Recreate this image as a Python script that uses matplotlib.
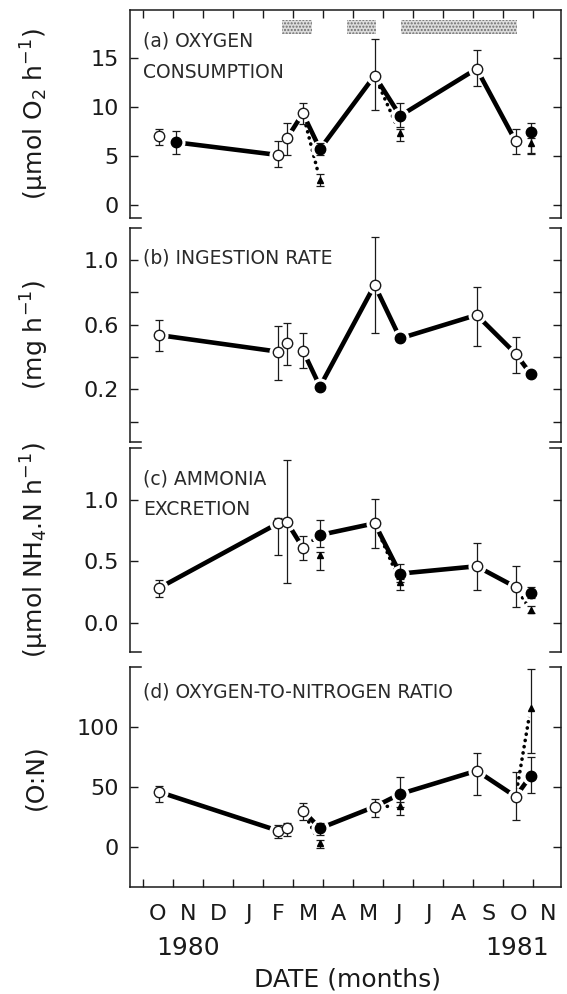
import matplotlib
matplotlib.use("Agg")
import matplotlib.pyplot as plt

plt.rcParams['font.family'] = ['DejaVu Sans']
plt.rcParams['mathtext.fontset'] = 'dejavusans'
plt.rcParams['hatch.color'] = '#6e6e6e'
plt.rcParams['hatch.linewidth'] = 1.0

# dates in months after 1 Oct 1980
open_dates = [0.52, 4.5, 4.8, 5.33, 7.72, 11.12, 12.42]
fill_dates_a = [1.09, 5.9, 8.57, 12.92]
fill_dates = [5.9, 8.57, 12.92]
tri_dates = [5.9, 8.57, 12.92]

month_labels = ['O', 'N', 'D', 'J', 'F', 'M', 'A', 'M', 'J', 'J', 'A', 'S', 'O', 'N']

# periods marked at the top of panel (a)
bar_start = [4.63, 6.8, 8.61]
bar_end = [5.65, 7.77, 12.48]

# (a) oxygen consumption
open_a = [7.0, 5.1, 6.8, 9.35, 13.2, 13.9, 6.5]
open_a_hi = [7.8, 6.5, 8.4, 10.4, 16.9, 15.8, 7.8]
open_a_lo = [6.1, 3.9, 5.1, 8.3, 9.7, 12.1, 5.2]
fill_a = [6.4, 5.7, 9.1, 7.4]
fill_a_hi = [7.5, 6.3, 10.4, 8.4]
fill_a_lo = [5.2, 5.1, 8.0, 5.2]
tri_a = [2.55, 7.3, 6.3]
tri_a_hi = [3.2, 7.8, 6.8]
tri_a_lo = [1.9, 6.5, 5.3]

# (b) ingestion rate
open_b = [0.536, 0.433, 0.485, 0.44, 0.845, 0.66, 0.42]
open_b_hi = [0.63, 0.59, 0.61, 0.55, 1.14, 0.835, 0.526]
open_b_lo = [0.44, 0.26, 0.35, 0.33, 0.55, 0.47, 0.30]
fill_b = [0.217, 0.515, 0.295]

# (c) ammonia excretion
open_c = [0.28, 0.81, 0.82, 0.61, 0.81, 0.46, 0.29]
open_c_hi = [0.35, 0.85, 1.33, 0.71, 1.01, 0.65, 0.46]
open_c_lo = [0.21, 0.55, 0.32, 0.51, 0.61, 0.27, 0.13]
fill_c = [0.715, 0.40, 0.24]
fill_c_hi = [0.84, 0.48, 0.29]
fill_c_lo = [0.62, 0.33, 0.20]
tri_c = [0.55, 0.33, 0.10]
tri_c_hi = [0.58, 0.36, 0.14]
tri_c_lo = [0.43, 0.27, 0.08]

# (d) O:N ratio
open_d = [45.8, 13.3, 15.3, 30.0, 33.3, 63.3, 41.7]
open_d_hi = [50.5, 18.0, 20.0, 36.7, 40.0, 78.0, 62.5]
open_d_lo = [37.5, 7.0, 9.0, 22.2, 25.0, 43.0, 22.2]
fill_d = [15.3, 43.9, 59.0]
fill_d_hi = [20.0, 57.8, 74.7]
fill_d_lo = [9.7, 33.3, 44.7]
tri_d = [2.8, 33.9, 115.6]
tri_d_hi = [5.6, 37.5, 148.0]
tri_d_lo = [-1.4, 26.4, 78.0]

panels = [
    dict(tag='a', fill_dates=fill_dates_a,
         o=(open_a, open_a_hi, open_a_lo), f=(fill_a, fill_a_hi, fill_a_lo), t=(tri_a, tri_a_hi, tri_a_lo),
         solid=['f0-o1', 'o2-o3', 'o3-f1', 'f1-o4', 'o4-f2', 'f2-o5', 'o5-o6'],
         dotted=['o3-t0', 'o4-t1', 'o6-f3', 'o6-t2'],
         ylim=(-1.33, 19.9), yticks=[0, 5, 10, 15], ylabels=['0', '5', '10', '15'],
         ylabel='(μmol O$_2$ h$^{-1}$)', rect=(218, 10)),
    dict(tag='b', fill_dates=fill_dates,
         o=(open_b, open_b_hi, open_b_lo), f=(fill_b, None, None), t=None,
         solid=['o0-o1', 'o3-f0', 'f0-o4', 'o4-f1', 'f1-o5', 'o5-o6', 'o6-f2'],
         dotted=[],
         ylim=(-0.126, 1.198), yticks=[0, 0.2, 0.4, 0.6, 0.8, 1.0],
         ylabels=['', '0.2', '', '0.6', '', '1.0'],
         ylabel='(mg h$^{-1}$)', rect=(442, 228)),
    dict(tag='c', fill_dates=fill_dates,
         o=(open_c, open_c_hi, open_c_lo), f=(fill_c, fill_c_hi, fill_c_lo), t=(tri_c, tri_c_hi, tri_c_lo),
         solid=['o0-o1', 'o2-o3', 'f0-o4', 'o4-f1', 'f1-o5', 'o5-o6'],
         dotted=['o3-f0', 'o3-t0', 'o4-t1', 'o6-f2', 'o6-t2'],
         ylim=(-0.239, 1.424), yticks=[0, 0.5, 1.0], ylabels=['0.0', '0.5', '1.0'],
         ylabel='(μmol NH$_4$.N h$^{-1}$)', rect=(652, 448)),
    dict(tag='d', fill_dates=fill_dates,
         o=(open_d, open_d_hi, open_d_lo), f=(fill_d, fill_d_hi, fill_d_lo), t=(tri_d, tri_d_hi, tri_d_lo),
         solid=['o0-o1', 'o3-f0', 'f0-o4', 'o4-f1', 'f1-o5', 'o5-o6', 'o6-f2'],
         dotted=['o3-t0', 'o4-t1', 'o6-t2'],
         ylim=(-33.6, 149.7), yticks=[0, 50, 100], ylabels=['0', '50', '100'],
         ylabel='(O:N)', rect=(887, 667)),
]

titles = {
    'a': ['(a) OXYGEN', 'CONSUMPTION'],
    'b': ['(b) INGESTION RATE'],
    'c': ['(c) AMMONIA', 'EXCRETION'],
    'd': ['(d) OXYGEN-TO-NITROGEN RATIO'],
}

W, H = 567, 994
fig = plt.figure(figsize=(W / 100, H / 100), dpi=100)
x0, x1 = 130, 561
ink = '#1a1a1a'

for i, p in enumerate(panels):
    ybot, ytop = p['rect']
    ax = fig.add_axes([x0 / W, 1 - ybot / H, (x1 - x0) / W, (ybot - ytop) / H])
    ax.set_xlim(-0.43, 13.93)
    ax.set_ylim(*p['ylim'])

    def point(key):
        kind, idx = key[0], int(key[1:])
        if kind == 'o':
            return open_dates[idx], p['o'][0][idx]
        if kind == 'f':
            return p['fill_dates'][idx], p['f'][0][idx]
        return tri_dates[idx], p['t'][0][idx]

    for seg in p['solid']:
        a, b = [point(k) for k in seg.split('-')]
        ax.plot([a[0], b[0]], [a[1], b[1]], color='black', lw=3.3, solid_capstyle='butt', zorder=1)
    for seg in p['dotted']:
        a, b = [point(k) for k in seg.split('-')]
        ax.plot([a[0], b[0]], [a[1], b[1]], color='black', lw=2.6, ls=(0, (0.05, 1.7)),
                dash_capstyle='round', zorder=1)

    # white halos so lines stop short of the symbols
    groups = [(open_dates, p['o'])]
    groups.append((p['fill_dates'], p['f']))
    if p['t'] is not None:
        groups.append((tri_dates, p['t']))
    for dates, (vals, hi, lo) in groups:
        ax.plot(dates, vals, ls='none', marker='o', ms=13, mfc='white', mec='none', zorder=2)

    # error bars
    for dates, (vals, hi, lo) in groups:
        if hi is None:
            continue
        err = [[v - l for v, l in zip(vals, lo)], [h - v for v, h in zip(vals, hi)]]
        ax.errorbar(dates, vals, yerr=err, fmt='none', ecolor=ink, elinewidth=0.9,
                    capsize=3, capthick=0.9, zorder=3)

    ax.plot(open_dates, p['o'][0], ls='none', marker='o', ms=7.5, mfc='white', mec=ink,
            mew=1.0, zorder=4)
    ax.plot(p['fill_dates'], p['f'][0], ls='none', marker='o', ms=7.5, mfc='black', mec='black', zorder=4)
    if p['t'] is not None:
        ax.plot(tri_dates, p['t'][0], ls='none', marker='^', ms=5, mfc='black', mec='black', zorder=4)

    if p['tag'] == 'a':
        ax.broken_barh([(s, e - s) for s, e in zip(bar_start, bar_end)], (17.5, 1.4),
                       facecolor='#dcdcdc', edgecolor='none', hatch='.....', zorder=1)

    # axes frame: side spines plus corner brackets
    ax.set_yticks(p['yticks'])
    ax.set_yticklabels(p['ylabels'])
    ax.tick_params(axis='y', direction='in', length=6, width=1, left=True, right=True,
                   labelsize=16, pad=8, colors=ink)
    for s in ('left', 'right', 'top', 'bottom'):
        ax.spines[s].set_linewidth(1.1)
        ax.spines[s].set_color(ink)
    ax.set_xticks(range(14))
    ax.set_xticks([m + 0.5 for m in range(14)], minor=True)
    ax.tick_params(axis='x', which='major', direction='in', length=6, width=1, color=ink,
                   bottom=False, top=False, labelbottom=False, labeltop=False)
    ax.tick_params(axis='x', which='minor', length=0, bottom=False, top=False,
                   labelbottom=False)
    if p['tag'] == 'a':
        ax.tick_params(axis='x', which='major', top=True)
    else:
        ax.spines['top'].set_visible(False)
        for xx in ((0, 0.025), (0.975, 1)):
            ax.plot(xx, [1, 1], transform=ax.transAxes, color=ink, lw=1.1, clip_on=False)
    if p['tag'] == 'd':
        ax.tick_params(axis='x', which='major', bottom=True)
        ax.set_xticklabels(month_labels, minor=True)
        ax.tick_params(axis='x', which='minor', labelbottom=True, labelsize=16, pad=12,
                       labelcolor=ink)
    else:
        ax.spines['bottom'].set_visible(False)
        for xx in ((0, 0.025), (0.975, 1)):
            ax.plot(xx, [0, 0], transform=ax.transAxes, color=ink, lw=1.1, clip_on=False)

    ty = [0.85, 0.70] if len(titles[p['tag']]) == 2 else [0.86]
    if p['tag'] == 'd':
        ty = [0.885]
    for line, yy in zip(titles[p['tag']], ty):
        ax.text(0.03, yy, line, transform=ax.transAxes, fontsize=13.5, va='center', ha='left',
                color='#2a2a2a')

    fig.text(35 / W, 1 - (ybot + ytop) / 2 / H, p['ylabel'], rotation=90, fontsize=18,
             ha='center', va='center', color=ink)

fig.text(188 / W, 1 - 948 / H, '1980', fontsize=18, ha='center', va='center', color=ink)
fig.text(517 / W, 1 - 948 / H, '1981', fontsize=18, ha='center', va='center', color=ink)
fig.text(348 / W, 1 - 980 / H, 'DATE (months)', fontsize=18, ha='center', va='center', color=ink)

fig.savefig('out.png', dpi=100)
